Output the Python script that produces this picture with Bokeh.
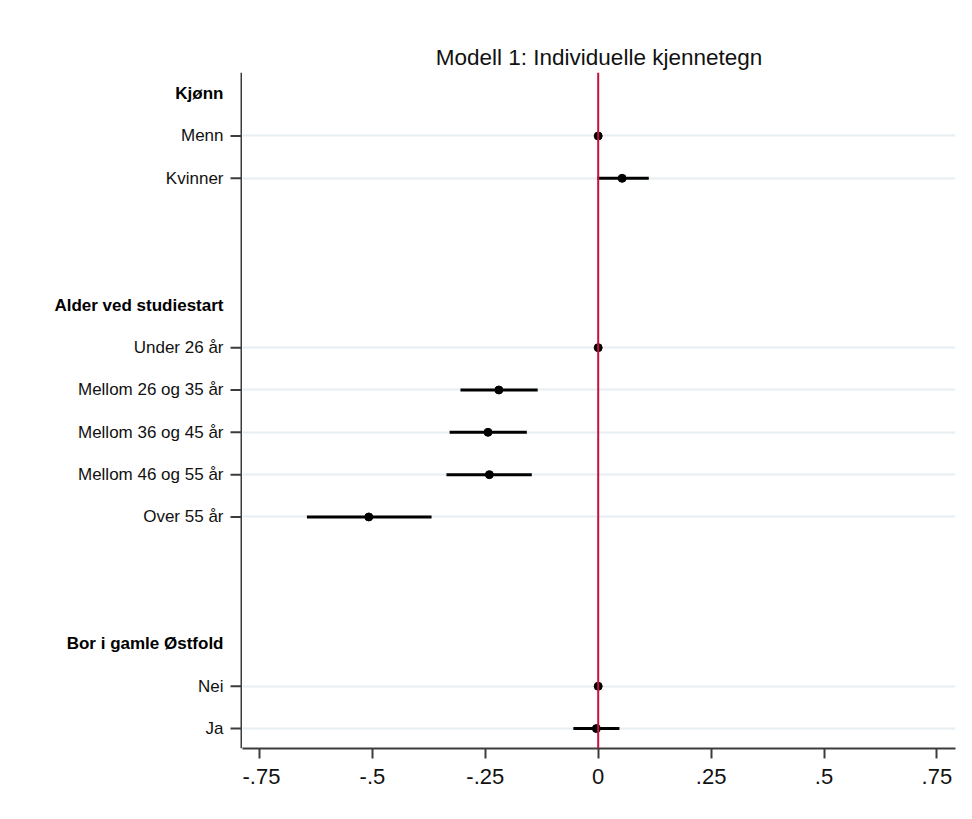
from bokeh.plotting import figure
from bokeh.models import FixedTicker, Range1d, Span, ColumnDataSource
from bokeh.layouts import row
from bokeh.core.properties import value
from bokeh.embed import file_html
from bokeh.resources import INLINE

# ---- data ----
title_text = "Modell 1: Individuelle kjennetegn"
group_names = ["Kjønn", "Alder ved studiestart", "Bor i gamle Østfold"]
group_items = [
    ["Menn", "Kvinner"],
    ["Under 26 år", "Mellom 26 og 35 år", "Mellom 36 og 45 år", "Mellom 46 og 55 år", "Over 55 år"],
    ["Nei", "Ja"],
]
coef = [0.0, 0.053, 0.0, -0.220, -0.244, -0.241, -0.508, 0.0, -0.004]
ci_low = [0.0, -0.002, 0.0, -0.305, -0.329, -0.336, -0.645, 0.0, -0.055]
ci_high = [0.0, 0.112, 0.0, -0.134, -0.158, -0.147, -0.369, 0.0, 0.047]
x_ticks = [-0.75, -0.5, -0.25, 0.0, 0.25, 0.5, 0.75]
x_tick_labels = ["-.75", "-.5", "-.25", "0", ".25", ".5", ".75"]

# ---- row layout (headers + items, two blank rows between groups) ----
header_rows = []
item_rows = []
item_labels = []
r = 0
for gi, (g, items) in enumerate(zip(group_names, group_items)):
    if gi > 0:
        r += 2
    header_rows.append(r)
    r += 1
    for it in items:
        item_rows.append(r)
        item_labels.append(it)
        r += 1
last_row = r - 1

FONT = "Liberation Sans"
AXIS_COLOR = "#3c3c3c"
TOP, BOTTOM = 72, 60
H = 808
LAB_W = 242

# ---- label panel (y axis labels, ticks, axis line) ----
lab = figure(width=LAB_W, height=H, output_backend="svg", toolbar_location=None,
             x_range=Range1d(0, LAB_W), y_range=Range1d(last_row + 0.47, -0.5),
             x_axis_location=None, y_axis_location=None,
             min_border_left=0, min_border_right=0, min_border_top=TOP, min_border_bottom=BOTTOM)
lab.outline_line_color = None
lab.xgrid.visible = False
lab.ygrid.visible = False

lab.text(x=[LAB_W - 19] * len(item_rows), y=item_rows, text=item_labels,
         text_align="right", text_baseline="middle",
         text_font=value(FONT), text_font_size="17px", text_color="#111111")
lab.text(x=[LAB_W - 19] * len(header_rows), y=header_rows, text=group_names,
         text_align="right", text_baseline="middle",
         text_font=value(FONT), text_font_size="17px", text_font_style="bold",
         text_color="black")
# y ticks
lab.segment(x0=[LAB_W - 12] * len(item_rows), y0=item_rows,
            x1=[LAB_W - 1] * len(item_rows), y1=item_rows,
            line_color=AXIS_COLOR, line_width=2)
# y axis line
lab.segment(x0=[LAB_W - 1], y0=[last_row + 0.47], x1=[LAB_W - 1], y1=[-0.5],
            line_color=AXIS_COLOR, line_width=2)

# ---- main plot ----
x0_px, zero_px, scale = 242, 597.7, 451.6
p = figure(width=964 - LAB_W, height=H, output_backend="svg", toolbar_location=None,
           x_range=Range1d((x0_px - zero_px) / scale, (955 - zero_px) / scale),
           y_range=Range1d(last_row + 0.47, -0.5), y_axis_location=None,
           min_border_left=0, min_border_right=9, min_border_top=TOP, min_border_bottom=BOTTOM)

p.outline_line_color = None

p.title.text = title_text
p.title.align = "center"
p.title.text_font = FONT
p.title.text_font_size = "22.5px"
p.title.text_font_style = "normal"
p.title.text_color = "#111111"
p.title.standoff = 6

p.xgrid.visible = False
p.ygrid.ticker = FixedTicker(ticks=item_rows)
p.ygrid.grid_line_color = "#e6eef1"
p.ygrid.grid_line_width = 2

p.xaxis.ticker = FixedTicker(ticks=x_ticks)
p.xaxis.major_label_overrides = {t: l for t, l in zip(x_ticks, x_tick_labels)}
p.xaxis.minor_tick_line_color = None
p.xaxis.major_tick_in = 0
p.xaxis.major_tick_out = 10
p.xaxis.major_label_standoff = 10
p.xaxis.major_label_text_font = FONT
p.xaxis.major_label_text_font_size = "22px"
p.xaxis.major_label_text_color = "#111111"
p.xaxis.axis_line_width = 2
p.xaxis.axis_line_color = AXIS_COLOR
p.xaxis.major_tick_line_width = 2
p.xaxis.major_tick_line_color = AXIS_COLOR

p.add_layout(Span(location=0, dimension="height", line_color="#c8103e", line_width=2))

src = ColumnDataSource(dict(y=item_rows, coef=coef, lo=ci_low, hi=ci_high))
p.segment(x0="lo", y0="y", x1="hi", y1="y", source=src, line_color="black", line_width=3)
p.scatter(x="coef", y="y", source=src, size=8, fill_color="black", line_color="black")

layout = row(lab, p, spacing=0)
open("out.html", "w").write(file_html(layout, INLINE))
